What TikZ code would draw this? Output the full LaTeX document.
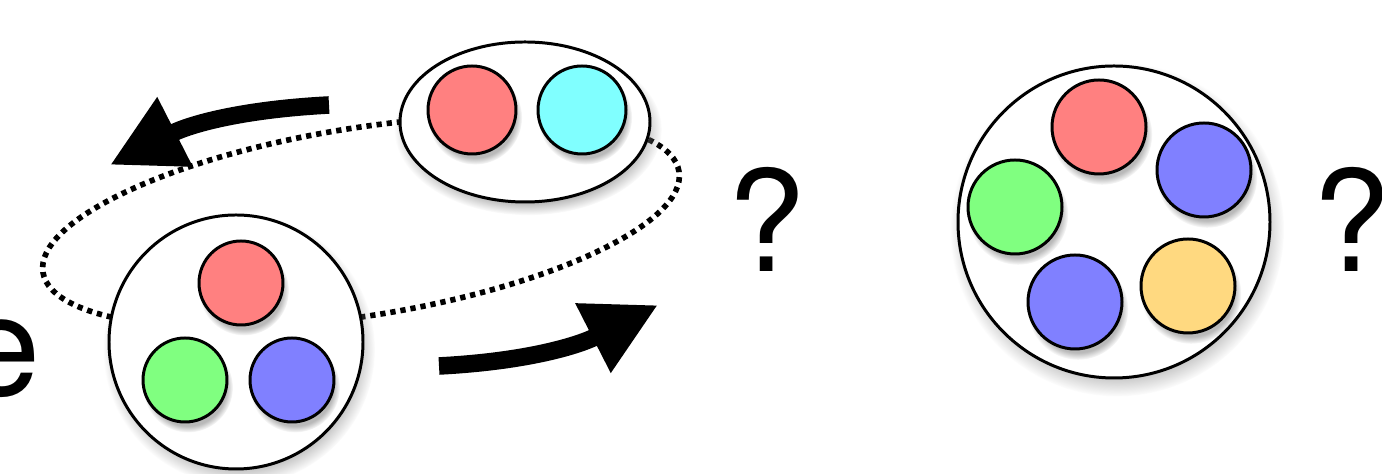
\documentclass[tikz,border=0pt]{standalone}
\usepackage{fontspec}
\setmainfont{TeX Gyre Heros}
\usepackage{xcolor}
\usepackage{tikz}
\usetikzlibrary{positioning, arrows.meta, shapes.geometric, shadows}

\definecolor{bolaVermelha}{RGB}{255,128,128}
\definecolor{bolaCiano}{RGB}{128,255,255}
\definecolor{bolaVerde}{RGB}{128,255,128}
\definecolor{bolaAzul}{RGB}{128,128,255}
\definecolor{bolaAmarela}{RGB}{255,217,128}

\begin{document}
\begin{tikzpicture}[
        every node/.style={inner sep=0pt},
        sombra/.style={circular drop shadow={shadow xshift=0.8pt, shadow yshift=-2pt, shadow scale=1.07, opacity=0.55}},
        grupo/.style={circle, draw, line width=0.85pt, fill=white, sombra},
        bola/.style={circle, draw, line width=0.85pt, sombra},
        seta/.style={-{Triangle[length=7.3mm, width=7.3mm]}, line width=5pt},
        pontilhado/.style={line width=1.6pt, dash pattern=on 1.5pt off 1.4pt},
        texto/.style={font=\fontsize{40}{48}\selectfont}
    ]
        \clip (0,0) rectangle (13.82,4.74);

        % Órbita (atrás dos grupos)
        \coordinate (orbita) at (3.61,2.52);
        \draw[pontilhado, rotate around={9:(orbita)}] (orbita) ellipse [x radius=3.22cm, y radius=0.94cm];

        % Grupos
        \node (grupoA) at (2.36,1.32) [grupo, minimum size=2.54cm] {};
        \node (vermA) at (2.41,1.91) [bola, minimum size=0.84cm, fill=bolaVermelha] {};
        \node (verdeA) at (1.85,0.94) [bola, minimum size=0.84cm, fill=bolaVerde] {};
        \node (azulA) at (2.92,0.94) [bola, minimum size=0.84cm, fill=bolaAzul] {};

        \node (grupoB) at (5.25,3.52) [ellipse, draw, line width=0.85pt, fill=white, sombra, minimum width=2.5cm, minimum height=1.6cm] {};
        \node (vermB) at (4.72,3.64) [bola, minimum size=0.88cm, fill=bolaVermelha] {};
        \node (cianoB) at (5.82,3.64) [bola, minimum size=0.88cm, fill=bolaCiano] {};

        \node (grupoC) at (11.14,2.52) [grupo, minimum size=3.12cm] {};
        \node (vermC) at (10.99,3.47) [bola, minimum size=0.94cm, fill=bolaVermelha] {};
        \node (azulC) at (12.04,3.04) [bola, minimum size=0.94cm, fill=bolaAzul] {};
        \node (verdeC) at (10.15,2.67) [bola, minimum size=0.94cm, fill=bolaVerde] {};
        \node (azul2C) at (10.75,1.72) [bola, minimum size=0.94cm, fill=bolaAzul] {};
        \node (amareloC) at (11.88,1.88) [bola, minimum size=0.94cm, fill=bolaAmarela] {};

        % Textos
        \node (letra) at (-0.38,0.78) [texto, anchor=base west] {e};
        \node (pergunta1) at (7.67,2.02) [texto, anchor=base] {?};
        \node (pergunta2) at (13.52,2.02) [texto, anchor=base] {?};

        % Setas
        \coordinate (setaA1) at (3.29,3.69);
        \coordinate (setaA2) at (1.10,3.09);
        \coordinate (setaB1) at (4.39,1.08);
        \coordinate (setaB2) at (6.58,1.69);
        \draw[seta] (setaA1) to[out=183, in=27] (setaA2);
        \draw[seta] (setaB1) to[out=3, in=207] (setaB2);
    \end{tikzpicture}
\end{document}
